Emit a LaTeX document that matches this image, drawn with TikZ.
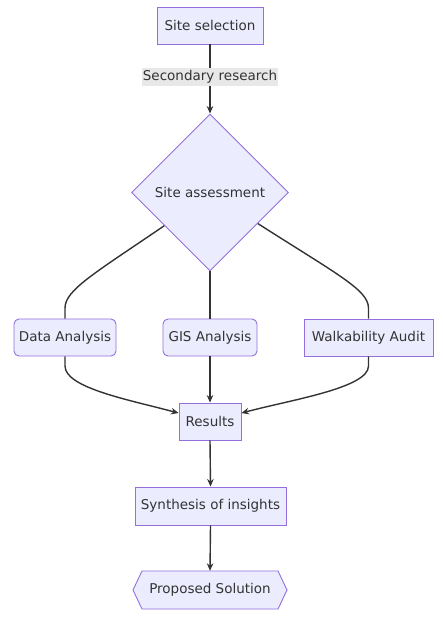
\documentclass[tikz,border=0pt]{standalone}
\usepackage{fontspec}
\setmainfont{DejaVu Sans}
\usetikzlibrary{shapes.geometric,arrows.meta}
\definecolor{nodefill}{HTML}{ECECFF}
\definecolor{nodeline}{HTML}{9370DB}
\definecolor{edgeline}{HTML}{333333}
\definecolor{labelbg}{HTML}{E8E8E8}
\begin{document}
\begin{tikzpicture}[x=1pt,y=-1pt,
  every node/.style={font=\fontsize{13.5}{16}\selectfont, text=edgeline},
  box/.style={draw=nodeline, fill=nodefill, line width=0.9pt, minimum height=37pt, inner sep=0pt},
  rbox/.style={box, rounded corners=5pt},
  hexbox/.style={draw=nodeline, fill=nodefill, line width=0.9pt},
  dia/.style={diamond, aspect=1, draw=nodeline, fill=nodefill, line width=0.9pt, minimum width=157pt, minimum height=157pt, inner sep=0pt},
  link/.style={draw=edgeline, line width=1.4pt},
  arr/.style={link, -{Stealth[length=7.5pt,width=6.5pt]}},
  elabel/.style={fill=labelbg, inner xsep=1pt, inner ysep=1pt, minimum height=18pt, minimum width=132pt}]
\useasboundingbox[fill=white] (0,0) rectangle (443,617);

\node[box, minimum width=106pt] (sel) at (210,25.5) {Site selection};
\node[dia] (ass) at (210,192.5) {Site assessment};
\node[rbox, minimum width=102pt] (data) at (65,337.5) {Data Analysis};
\node[rbox, minimum width=94pt] (gis) at (210,337.5) {GIS Analysis};
\node[box, minimum width=129pt] (walk) at (368.5,337.5) {Walkability Audit};
\node[box, minimum width=62pt] (res) at (210,421.5) {Results};
\node[box, minimum width=151pt, minimum height=38pt] (syn) at (210.5,506) {Synthesis of insights};
\path[hexbox] (133,590) -- (142,571) -- (278,571) -- (287,590) -- (278,609) -- (142,609) -- cycle;
\node[minimum width=154pt, minimum height=38pt, inner sep=0pt] (sol) at (210,590) {Proposed Solution};

\draw[arr] (sel.south) -- (ass.north);
\node[elabel] (lab) at (210,77) {Secondary research};

\draw[link] (ass.216) .. controls (95,273) and (65,290) .. (65,308) -- (data.north);
\draw[link] (ass.south) -- (gis.north);
\draw[link] (ass.327) .. controls (340,276) and (368,290) .. (368.5,308) -- (walk.north);

\draw[arr] (data.south) -- (65,366) .. controls (65,388) and (130,400) .. (res.165);
\draw[arr] (gis.south) -- (res.north);
\draw[arr] (walk.south) -- (368.5,366) .. controls (368.5,388) and (290,400) .. (res.15);
\draw[arr] (res.south) -- (syn.north);
\draw[arr] (syn.south) -- (sol.north);
\end{tikzpicture}
\end{document}
